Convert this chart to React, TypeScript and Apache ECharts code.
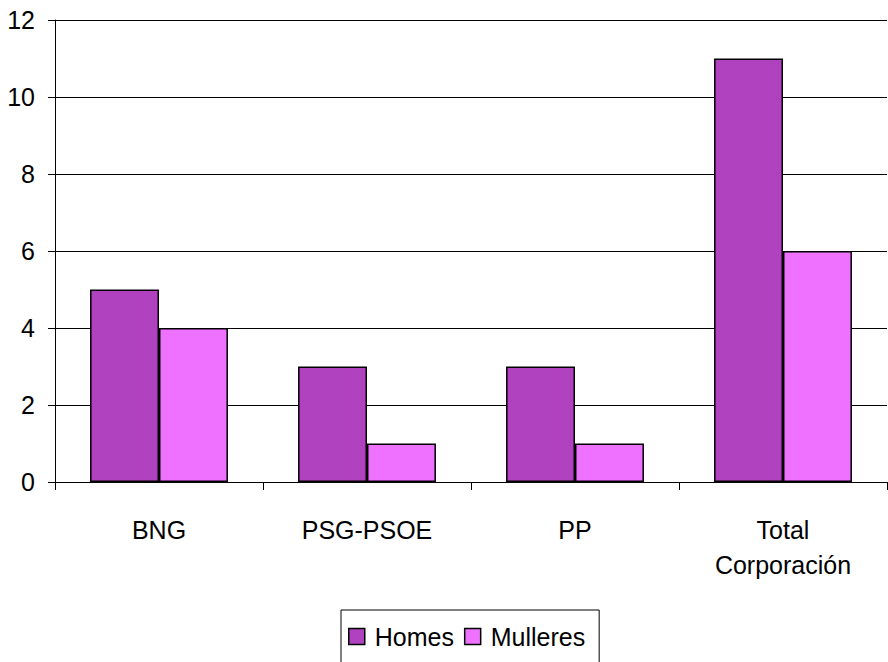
import React, { useEffect, useRef } from "react";
import * as echarts from "echarts";

const categories = ["BNG", "PSG-PSOE", "PP", "Total\nCorporación"];
const homes = [5, 3, 3, 11];
const mulleres = [4, 1, 1, 6];
const seriesNames = ["Homes", "Mulleres"];

const FONT = "Liberation Sans, Arial, sans-serif";

export default function App() {
  const ref = useRef<HTMLDivElement>(null);
  useEffect(() => {
    if (!ref.current) return;
    const chart = echarts.init(ref.current, undefined, { renderer: "svg" });
    chart.setOption({
      animation: false,
      backgroundColor: "#ffffff",
      textStyle: { fontFamily: FONT },
      grid: { left: 55, right: 1, top: 20, bottom: 180 },
      legend: {
        data: seriesNames,
        left: 341,
        top: 610,
        padding: [14, 14, 30, 7],
        itemGap: 10,
        itemWidth: 16,
        itemHeight: 16,
        borderColor: "#000",
        borderWidth: 1,
        icon: "rect",
        textStyle: { fontFamily: FONT, fontSize: 25, color: "#000", padding: [0, 0, 0, 5] },
        itemStyle: { borderColor: "#000", borderWidth: 1.5 },
      },
      xAxis: {
        type: "category",
        data: categories,
        axisLine: { lineStyle: { color: "#000", width: 1 } },
        axisTick: { show: true, length: 8, lineStyle: { color: "#000" } },
        axisLabel: {
          fontFamily: FONT,
          fontSize: 25,
          color: "#000",
          margin: 30,
          lineHeight: 35,
          interval: 0,
        },
      },
      yAxis: {
        type: "value",
        min: 0,
        max: 12,
        interval: 2,
        axisLine: { show: true, lineStyle: { color: "#000", width: 1 } },
        axisTick: { show: true, length: 7, lineStyle: { color: "#000" } },
        splitLine: { show: true, lineStyle: { color: "#000", width: 1 } },
        axisLabel: { fontFamily: FONT, fontSize: 25, color: "#000", margin: 20 },
      },
      series: [
        {
          name: seriesNames[0],
          type: "bar",
          data: homes,
          barGap: "0%",
          barCategoryGap: "33.7%",
          itemStyle: { color: "#B041BF", borderColor: "#000", borderWidth: 1.5 },
        },
        {
          name: seriesNames[1],
          type: "bar",
          data: mulleres,
          itemStyle: { color: "#EE72FF", borderColor: "#000", borderWidth: 1.5 },
        },
      ],
    });
    return () => chart.dispose();
  }, []);
  return <div ref={ref} style={{ width: 888, height: 662, position: "absolute", left: 0, top: 0 }} />;
}
